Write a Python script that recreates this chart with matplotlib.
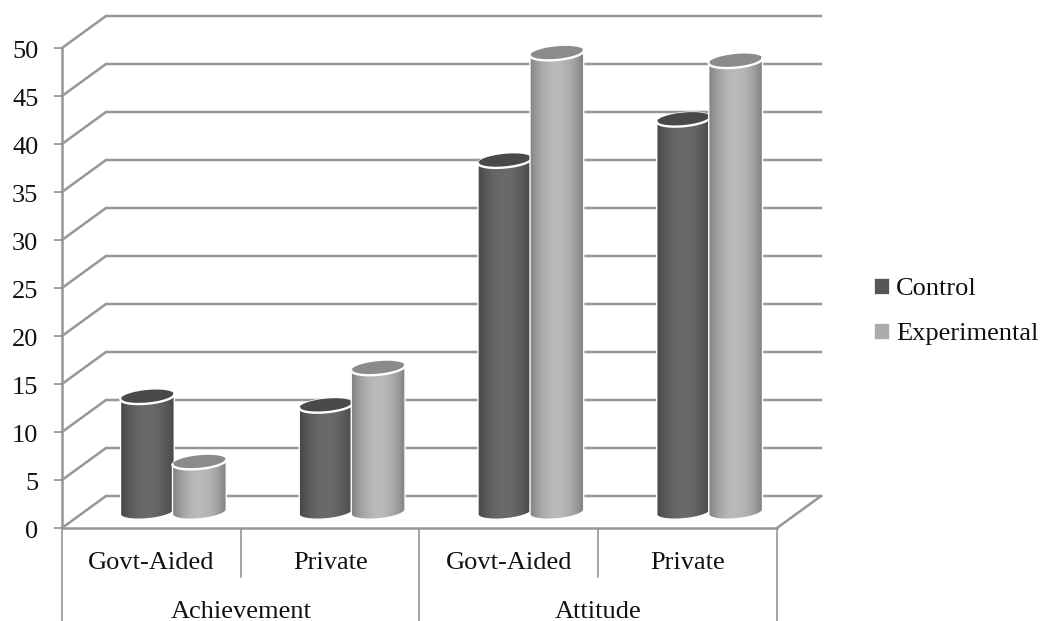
import numpy as np
import matplotlib
matplotlib.use("Agg")
import matplotlib.pyplot as plt
from matplotlib.patches import Patch, Polygon
from matplotlib.transforms import blended_transform_factory, ScaledTranslation

# Chart data
groups = ["Achievement", "Attitude"]
subgroups = ["Govt-Aided", "Private", "Govt-Aided", "Private"]
series_names = ["Control", "Experimental"]
control = [12.0, 11.1, 36.6, 40.9]
experimental = [5.2, 15.0, 47.8, 47.0]
y_ticks = list(range(0, 55, 5))

W, H = 1042, 621
AX_L, AX_R, AX_TOP, AX_BOT = 62, 777, 48, 528
GRID = "#969696"
FONT = "Liberation Serif"
FS = 19

plt.rcParams["font.family"] = FONT

fig = plt.figure(figsize=(W / 100, H / 100), dpi=100, facecolor="white")
ax = fig.add_axes([AX_L / W, 1 - AX_BOT / H, (AX_R - AX_L) / W, (AX_BOT - AX_TOP) / H])
ax.set_xlim(0, len(subgroups))
ax.set_ylim(0, 50)
ax.patch.set_alpha(0)

# Conversion from screen pixels to data units, used for the 3D depth and cylinders
PX_X = len(subgroups) / (AX_R - AX_L)
PX_Y = 50 / (AX_BOT - AX_TOP)
DEPTH_X = 44 * PX_X
DEPTH_Y = 32 * PX_Y
XMAX = len(subgroups)

# Axes frame
for side in ("top", "right"):
    ax.spines[side].set_visible(False)
for side in ("left", "bottom"):
    ax.spines[side].set_color(GRID)
    ax.spines[side].set_linewidth(1.8)
ax.set_xticks([])
ax.set_yticks(y_ticks)
ax.tick_params(axis="y", length=6, width=1.2, color=GRID, labelsize=FS, pad=11, labelcolor="#111111")

# Nudge the value labels slightly below their tick marks
label_shift = ScaledTranslation(0, -1 / 100, fig.dpi_scale_trans)
for label in ax.get_yticklabels():
    label.set_transform(label.get_transform() + label_shift)

# Back wall gridlines with their slanted side-wall segments
for v in y_ticks:
    ax.plot([0, DEPTH_X, XMAX + DEPTH_X], [v, v + DEPTH_Y, v + DEPTH_Y],
            color=GRID, lw=1.8, clip_on=False, zorder=1, solid_joinstyle="miter")
ax.plot([XMAX, XMAX + DEPTH_X], [0, DEPTH_Y], color=GRID, lw=1.8, clip_on=False, zorder=1)


def ellipse_pts(cx, cy, t):
    """Tilted ellipse for a cylinder cap, returned in data units."""
    a, b, th = 27.0, 6.8, np.radians(5.5)
    ex = a * np.cos(t) * np.cos(th) - b * np.sin(t) * np.sin(th)
    ey = a * np.cos(t) * np.sin(th) + b * np.sin(t) * np.cos(th)
    return np.column_stack([cx + ex * PX_X, cy + ey * PX_Y])


def shade(edge, mid):
    """Horizontal shading of a cylinder wall, dark at the sides, light near the middle."""
    s = np.linspace(0, 1, 200)
    k = np.clip(np.sin(np.pi * s) ** 0.8, 0, 1)
    g = edge + (mid - edge) * k
    return np.dstack([g, g, g]) / 255.0


def cylinder(x, value, edge, mid, cap, z):
    cx = x + DEPTH_X / 2
    base_y = DEPTH_Y / 2
    t_low = np.linspace(np.pi, 2 * np.pi, 60)
    t_up = np.linspace(0, np.pi, 60)
    outline = np.vstack([ellipse_pts(cx, base_y, t_low), ellipse_pts(cx, value + base_y, t_up)])
    outline_patch = Polygon(outline, closed=True, fc="none", ec="none", clip_on=False)
    ax.add_patch(outline_patch)
    half = 27.5 * PX_X
    img = ax.imshow(shade(edge, mid), extent=[cx - half, cx + half, 0, value + base_y + 2],
                    aspect="auto", zorder=z, interpolation="bilinear", clip_on=True)
    img.set_clip_path(outline_patch)
    ax.add_patch(Polygon(outline, closed=True, fc="none", ec="white", lw=1.0,
                         zorder=z + 0.1, clip_on=False))
    top = ellipse_pts(cx, value + base_y, np.linspace(0, 2 * np.pi, 120))
    ax.add_patch(Polygon(top, closed=True, fc=cap, ec="none", zorder=z + 0.2, clip_on=False))
    # The bright rim shows along the near side of the cap
    rim = ellipse_pts(cx, value + base_y, t_low)
    ax.plot(rim[:, 0], rim[:, 1], color="white", lw=1.7, zorder=z + 0.3, clip_on=False)


BAR_OFFSET = 26 * PX_X
for i, (c, e) in enumerate(zip(control, experimental)):
    center = i + 0.5
    cylinder(center - BAR_OFFSET, c, 66, 106, "#494949", 3 + i)
    cylinder(center + BAR_OFFSET, e, 122, 186, "#8b8b8b", 3.5 + i)

ax.set_xlim(0, XMAX)
ax.set_ylim(0, 50)

# Two-level category axis below the floor
trans = blended_transform_factory(ax.transData, fig.transFigure)
y_px = lambda p: 1 - p / H
for i in range(len(subgroups) + 1):
    low = 621 if i % 2 == 0 else 577
    ax.plot([i, i], [y_px(529), y_px(low)], transform=trans, color="#8c8c8c", lw=1.1,
            clip_on=False, zorder=1)
for i, name in enumerate(subgroups):
    ax.text(i + 0.5, y_px(563), name, transform=trans, ha="center", va="center",
            fontsize=FS, color="#111111")
for i, name in enumerate(groups):
    ax.text(2 * i + 1, y_px(612), name, transform=trans, ha="center", va="center",
            fontsize=FS, color="#111111")

# Legend
handles = [Patch(fc="#565656", ec="white", lw=0.5), Patch(fc="#ababab", ec="white", lw=0.5)]
fig.legend(handles, series_names, loc="center left", bbox_to_anchor=(874 / W, 1 - 311.5 / H),
           frameon=False, fontsize=FS, handlelength=0.55, handleheight=0.55,
           handletextpad=0.28, labelspacing=0.86, borderpad=0, borderaxespad=0,
           labelcolor="#111111")

fig.savefig("out.png", dpi=100, facecolor="white")
